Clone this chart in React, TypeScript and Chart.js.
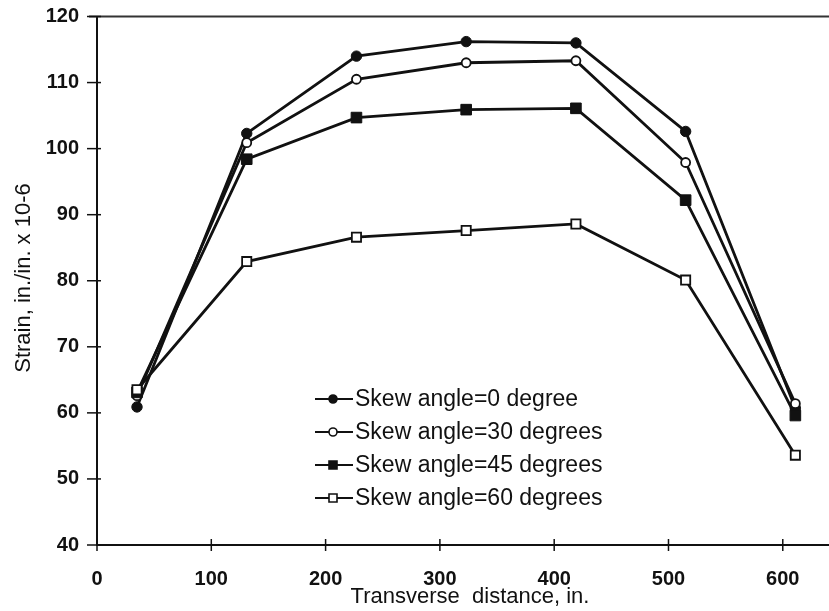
import React, { useEffect, useRef } from "react";
import { Chart, registerables } from "chart.js";

Chart.register(...registerables);

const distances = [35, 131, 227, 323, 419, 515, 611];
const skew0 = [60.9, 102.3, 114.0, 116.2, 116.0, 102.6, 60.7];
const skew30 = [62.6, 100.9, 110.5, 113.0, 113.3, 97.9, 61.4];
const skew45 = [63.1, 98.4, 104.7, 105.9, 106.1, 92.2, 59.6];
const skew60 = [63.5, 82.9, 86.6, 87.6, 88.6, 80.1, 53.6];
const seriesLabels = [
  "Skew angle=0 degree",
  "Skew angle=30 degrees",
  "Skew angle=45 degrees",
  "Skew angle=60 degrees",
];
const xTitle = "Transverse  distance, in.";
const yTitle = "Strain, in./in. x 10-6";

const FONT = "Arial, 'Liberation Sans', sans-serif";
const INK = "#111";

type MarkerKind = "circleFilled" | "circleOpen" | "rectFilled" | "rectOpen";
const markerKinds: MarkerKind[] = ["circleFilled", "circleOpen", "rectFilled", "rectOpen"];

function drawMarker(ctx: CanvasRenderingContext2D, kind: MarkerKind, x: number, y: number, s: number) {
  ctx.save();
  ctx.lineWidth = 1.6;
  ctx.strokeStyle = INK;
  ctx.beginPath();
  if (kind.startsWith("circle")) {
    ctx.arc(x, y, s / 2, 0, Math.PI * 2);
  } else {
    ctx.rect(x - s / 2, y - s / 2, s, s);
  }
  ctx.fillStyle = kind.endsWith("Filled") ? INK : "#fff";
  ctx.fill();
  ctx.stroke();
  ctx.restore();
}

const decorPlugin = {
  id: "decor",
  afterDraw(chart: any) {
    const { ctx, chartArea, scales } = chart;
    const xs = scales.x;
    const ys = scales.y;
    ctx.save();
    // top frame line
    ctx.strokeStyle = "#333";
    ctx.lineWidth = 2;
    ctx.beginPath();
    ctx.moveTo(chartArea.left - 8, chartArea.top);
    ctx.lineTo(chart.width, chartArea.top);
    ctx.stroke();
    // extend bottom axis to the edge
    ctx.strokeStyle = INK;
    ctx.beginPath();
    ctx.moveTo(chartArea.right - 1, chartArea.bottom);
    ctx.lineTo(chart.width, chartArea.bottom);
    ctx.stroke();
    // tick marks crossing axes
    ctx.lineWidth = 1.5;
    ys.ticks.forEach((t: any) => {
      const y = ys.getPixelForValue(t.value);
      ctx.beginPath();
      ctx.moveTo(chartArea.left - 10, y);
      ctx.lineTo(chartArea.left + 4, y);
      ctx.stroke();
    });
    xs.ticks.forEach((t: any) => {
      const x = xs.getPixelForValue(t.value);
      ctx.beginPath();
      ctx.moveTo(x, chartArea.bottom - 6);
      ctx.lineTo(x, chartArea.bottom + 6);
      ctx.stroke();
    });
    // titles
    ctx.fillStyle = INK;
    ctx.font = `22px ${FONT}`;
    ctx.textAlign = "center";
    ctx.textBaseline = "middle";
    ctx.fillText(xTitle, 470, 597);
    ctx.save();
    ctx.translate(24, 278);
    ctx.rotate(-Math.PI / 2);
    ctx.fillText(yTitle, 0, 0);
    ctx.restore();
    // legend
    ctx.textAlign = "left";
    ctx.font = `23px ${FONT}`;
    seriesLabels.forEach((label, i) => {
      const y = 399 + i * 33;
      ctx.strokeStyle = INK;
      ctx.lineWidth = 2;
      ctx.beginPath();
      ctx.moveTo(315, y);
      ctx.lineTo(353, y);
      ctx.stroke();
      drawMarker(ctx, markerKinds[i], 333, y, 8);
      ctx.fillStyle = INK;
      ctx.fillText(label, 355, y + 1);
    });
    ctx.restore();
  },
};

export default function App() {
  const ref = useRef<HTMLCanvasElement | null>(null);
  useEffect(() => {
    document.body.style.margin = "0";
    const canvas = ref.current;
    if (!canvas) return;
    const mk = (data: number[], label: string, style: string, radius: number, filled: boolean) => ({
      label,
      data: distances.map((d, i) => ({ x: d, y: data[i] })),
      borderColor: INK,
      borderWidth: 2.8,
      pointStyle: style,
      pointRadius: radius,
      pointBorderWidth: filled ? 1 : 1.8,
      pointBackgroundColor: filled ? INK : "#fff",
      pointBorderColor: INK,
      tension: 0,
      fill: false,
    });
    const chart = new Chart(canvas, {
      type: "line",
      data: {
        datasets: [
          mk(skew60, seriesLabels[3], "rect", 6.5, false),
          mk(skew45, seriesLabels[2], "rect", 7.5, true),
          mk(skew30, seriesLabels[1], "circle", 4.5, false),
          mk(skew0, seriesLabels[0], "circle", 5.2, true),
        ],
      },
      options: {
        animation: false,
        responsive: false,
        maintainAspectRatio: false,
        layout: { padding: { top: 16.5, left: 0, right: 0, bottom: 0 } },
        plugins: { legend: { display: false }, tooltip: { enabled: false } },
        scales: {
          x: {
            type: "linear",
            min: 0,
            max: 633,
            afterFit: (s: any) => {
              s.height = 66;
              s.paddingLeft = 0;
              s.paddingRight = 0;
            },
            grid: { display: true, drawOnChartArea: false, drawTicks: false },
            border: { color: INK, width: 2 },
            ticks: {
              stepSize: 100,
              includeBounds: false,
              padding: 22,
              color: INK,
              font: { family: FONT, size: 20, weight: "bold" },
            },
          },
          y: {
            type: "linear",
            min: 40,
            max: 120,
            afterFit: (s: any) => {
              s.width = 97;
              s.paddingTop = 0;
              s.paddingBottom = 0;
            },
            grid: { display: true, drawOnChartArea: false, drawTicks: false },
            border: { color: INK, width: 2 },
            ticks: {
              stepSize: 10,
              padding: 18,
              color: INK,
              font: { family: FONT, size: 20, weight: "bold" },
            },
          },
        },
      },
      plugins: [decorPlugin],
    } as any);
    return () => chart.destroy();
  }, []);
  return <canvas ref={ref} width={829} height={611} style={{ display: "block" }} />;
}
